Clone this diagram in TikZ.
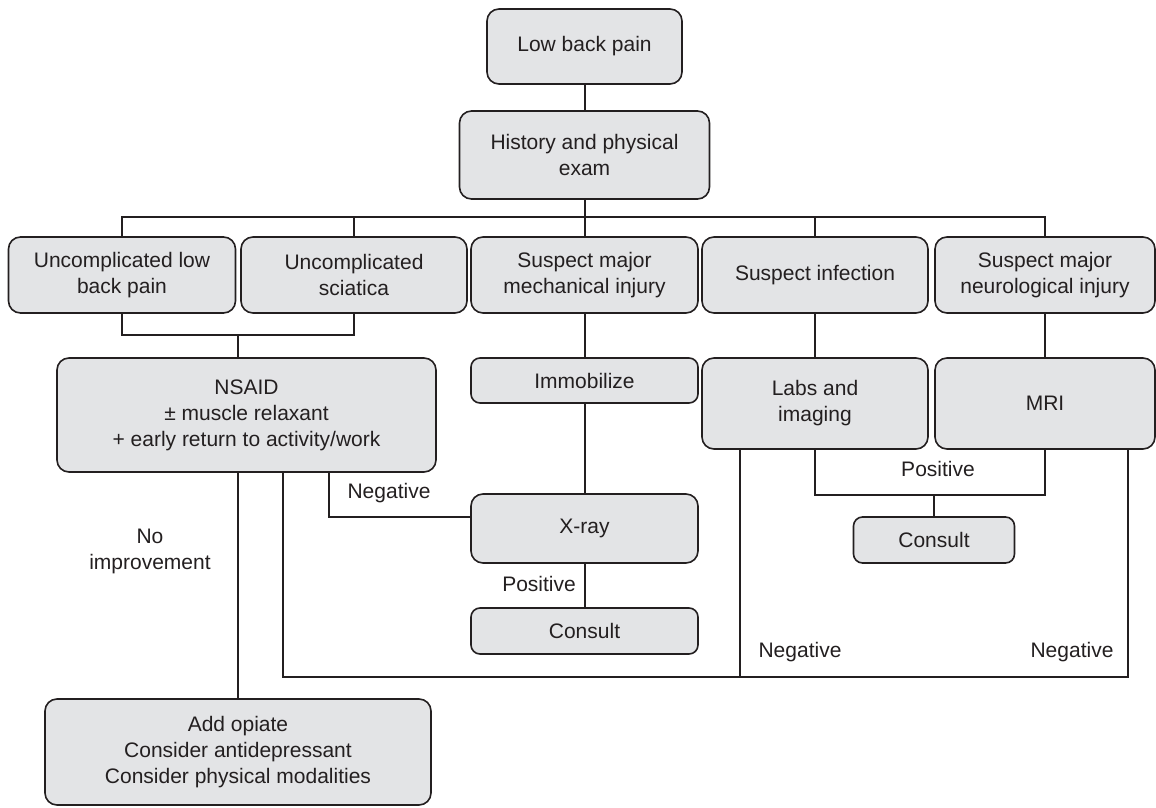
\documentclass[tikz,border=0pt]{standalone}
\usepackage{fontspec}
\setmainfont{Liberation Sans}
\definecolor{linec}{HTML}{231F20}
\definecolor{boxfill}{HTML}{E3E4E6}
\begin{document}
\begin{tikzpicture}[x=1pt,y=-1pt,
  box/.style={draw=linec, fill=boxfill, line width=1.6pt, rounded corners=12pt,
    align=center, inner sep=0pt, text=linec, font=\fontsize{21}{26}\selectfont},
  smallbox/.style={box, rounded corners=9pt},
  conn/.style={draw=linec, line width=2pt},
  lab/.style={inner sep=0pt, text=linec, align=center, font=\fontsize{21}{26}\selectfont}]
\useasboundingbox (0,0) rectangle (1156,808);

% boxes
\node[box, minimum width=195pt, minimum height=75pt] (lbp) at (584.5,46.5) {Low back pain};
\node[box, minimum width=250pt, minimum height=88pt] (hist) at (584.5,155) {History and physical\\exam};

\node[box, minimum width=227pt, minimum height=76pt] (b1) at (122,275) {Uncomplicated low\\back pain};
\node[box, minimum width=226pt, minimum height=76pt] (b2) at (354,275) {Uncomplicated\\sciatica};
\node[box, minimum width=227pt, minimum height=76pt] (b3) at (584.5,275) {Suspect major\\mechanical injury};
\node[box, minimum width=226pt, minimum height=76pt] (b4) at (815,275) {Suspect infection};
\node[box, minimum width=220pt, minimum height=76pt] (b5) at (1045,275) {Suspect major\\neurological injury};

\node[box, minimum width=379pt, minimum height=114pt] (nsaid) at (246.5,415) {NSAID\\± muscle relaxant\\+ early return to activity/work};
\node[smallbox, minimum width=227pt, minimum height=45pt] (immob) at (584.5,380.5) {Immobilize};
\node[box, minimum width=226pt, minimum height=91pt] (labs) at (815,403.5) {Labs and\\imaging};
\node[box, minimum width=220pt, minimum height=91pt] (mri) at (1045,403.5) {MRI};

\node[box, minimum width=227pt, minimum height=69pt] (xray) at (584.5,528.5) {X-ray};
\node[smallbox, minimum width=227pt, minimum height=46pt] (cons1) at (584.5,631) {Consult};
\node[smallbox, minimum width=161pt, minimum height=46pt] (cons2) at (934,540) {Consult};

\node[box, minimum width=386pt, minimum height=106pt] (addop) at (238,752) {Add opiate\\Consider antidepressant\\Consider physical modalities};

% connectors
\coordinate (bus) at (0,217);
\draw[conn] (lbp.south) -- (hist.north);
\draw[conn] (b1.north) |- (bus -| b5.north) -- (b5.north);
\draw[conn] (b2.north) -- (b2.north |- bus);
\draw[conn] (hist.south) -- (b3.north);
\draw[conn] (b4.north) -- (b4.north |- bus);

\coordinate (brk) at (238,335);
\draw[conn] (b1.south) |- (brk -| b2.south) -- (b2.south);
\draw[conn] (brk) -- (brk |- nsaid.north);

\draw[conn] (b3.south) -- (immob.north);
\draw[conn] (immob.south) -- (xray.north);
\draw[conn] (xray.south) -- (cons1.north);
\draw[conn] (b4.south) -- (labs.north);
\draw[conn] (b5.south) -- (mri.north);

\coordinate (neg) at (329,517);
\draw[conn] (neg |- nsaid.south) |- (xray.west |- neg);

\coordinate (bl) at (283,677);
\coordinate (br) at (1128,677);
\draw[conn] (bl |- nsaid.south) -- (bl) -- (br) -- (br |- mri.south);
\coordinate (lneg) at (740,677);
\draw[conn] (lneg) -- (lneg |- labs.south);

\coordinate (pos) at (934,495);
\draw[conn] (labs.south) |- (pos) -| (mri.south);
\draw[conn] (pos) -- (cons2.north);

\draw[conn] (nsaid.south -| addop.north) -- (addop.north);

% labels
\node[lab] (lneg1) at (389,493) {Negative};
\node[lab, anchor=east] (lpos1) at (576,584) {Positive};
\node[lab] (lpos2) at (938,469) {Positive};
\node[lab] (lneg2) at (800,652) {Negative};
\node[lab] (lneg3) at (1072,652) {Negative};
\node[lab] (lnoimp) at (150,551) {No\\improvement};
\end{tikzpicture}
\end{document}
